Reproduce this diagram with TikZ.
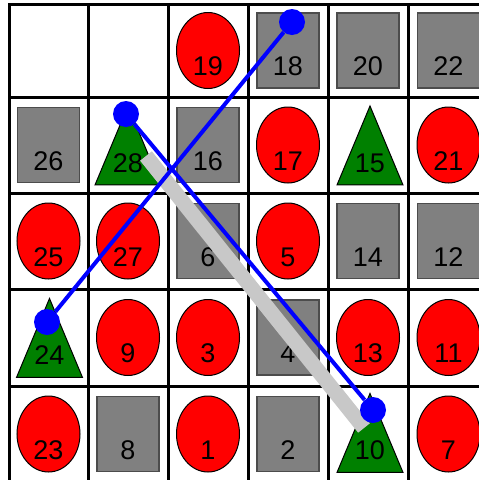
\documentclass[tikz,border=0pt]{standalone}
\usepackage{fontspec}
\setmainfont{Liberation Sans}
\usetikzlibrary{shapes.geometric}
\definecolor{boardred}{RGB}{255,0,0}
\definecolor{boardgray}{RGB}{128,128,128}
\definecolor{boardgreen}{RGB}{0,128,0}
\definecolor{trail}{RGB}{200,200,200}

\begin{document}
\begin{tikzpicture}[
    x=1pt,y=-1pt,
    gridline/.style={draw=black,line width=3pt},
    numfont/.style={font=\fontsize{27}{27}\selectfont,inner sep=0pt},
    numtext/.style={numfont,yshift=-16pt},
    ball/.style={ellipse,draw=black,line width=1pt,fill=boardred,minimum width=63pt,minimum height=76pt,inner sep=0pt},
    block/.style={rectangle,draw=black!70,line width=1.5pt,fill=boardgray,minimum width=62pt,minimum height=75pt,inner sep=0pt},
    cone/.style={isosceles triangle,shape border rotate=90,isosceles triangle stretches,draw=black,line width=1pt,fill=boardgreen,minimum width=66pt,minimum height=79pt,inner sep=0pt},
    band/.style={draw=trail,line width=15pt},
    link/.style={draw=blue,line width=4pt},
    dot/.style={circle,fill=blue,minimum size=26pt,inner sep=0pt}
]
\useasboundingbox (0,0) rectangle (479,480);
\fill[white] (0,0) rectangle (479,480);

\draw[gridline] (9,484) -- (9,4) -- (484,4);
\draw[gridline] (88,4) -- (88,484);
\draw[gridline] (168,4) -- (168,484);
\draw[gridline] (248,4) -- (248,484);
\draw[gridline] (328,4) -- (328,484);
\draw[gridline] (408.5,4) -- (408.5,484);
\draw[gridline] (9,97) -- (484,97);
\draw[gridline] (9,193) -- (484,193);
\draw[gridline] (9,289.5) -- (484,289.5);
\draw[gridline] (9,386) -- (484,386);

\node[ball,label={[numtext]center:19}] (b19) at (208,50.5) {};
\node[block,label={[numtext]center:18}] (s18) at (288,50.5) {};
\node[block,label={[numtext]center:20}] (s20) at (368,50.5) {};
\node[block,label={[numtext]center:22}] (s22) at (448.5,50.5) {};

\node[block,label={[numtext]center:26}] (s26) at (48.5,145) {};
\node[cone,label={[numfont]center:28}] (c28) at (128,163) {};
\node[block,label={[numtext]center:16}] (s16) at (208,145) {};
\node[ball,label={[numtext]center:17}] (b17) at (288,145) {};
\node[cone,label={[numfont]center:15}] (c15) at (370,163) {};
\node[ball,label={[numtext]center:21}] (b21) at (448.5,145) {};

\node[ball,label={[numtext]center:25}] (b25) at (48.5,241) {};
\node[ball,label={[numtext]center:27}] (b27) at (128,241) {};
\node[block,label={[numtext]center:6}] (s6) at (208,241) {};
\node[ball,label={[numtext]center:5}] (b5) at (288,241) {};
\node[block,label={[numtext]center:14}] (s14) at (368,241) {};
\node[block,label={[numtext]center:12}] (s12) at (448.5,241) {};

\node[cone,label={[numfont]center:24}] (c24) at (49.5,355.5) {};
\node[ball,label={[numtext]center:9}] (b9) at (128,337.5) {};
\node[ball,label={[numtext]center:3}] (b3) at (208,337.5) {};
\node[block,label={[numtext]center:4}] (s4) at (288,337.5) {};
\node[ball,label={[numtext]center:13}] (b13) at (368,337.5) {};
\node[ball,label={[numtext]center:11}] (b11) at (448.5,337.5) {};

\node[ball,label={[numtext]center:23}] (b23) at (48.5,434) {};
\node[block,label={[numtext]center:8}] (s8) at (128,434) {};
\node[ball,label={[numtext]center:1}] (b1) at (208,434) {};
\node[block,label={[numtext]center:2}] (s2) at (288,434) {};
\node[cone,label={[numfont]center:10}] (c10) at (370,450.5) {};
\node[ball,label={[numtext]center:7}] (b7) at (448.5,434) {};

\coordinate (trailstart) at (146,156);
\coordinate (trailend) at (364,428);
\draw[band] (trailstart) -- (trailend);

\node[dot] (d18) at (292,22) {};
\node[dot] (d24) at (47,322) {};
\node[dot] (d28) at (126,114) {};
\node[dot] (d10) at (373,410) {};

\draw[link] (d18) -- (d24);
\draw[link] (d28) -- (d10);
\end{tikzpicture}
\end{document}
